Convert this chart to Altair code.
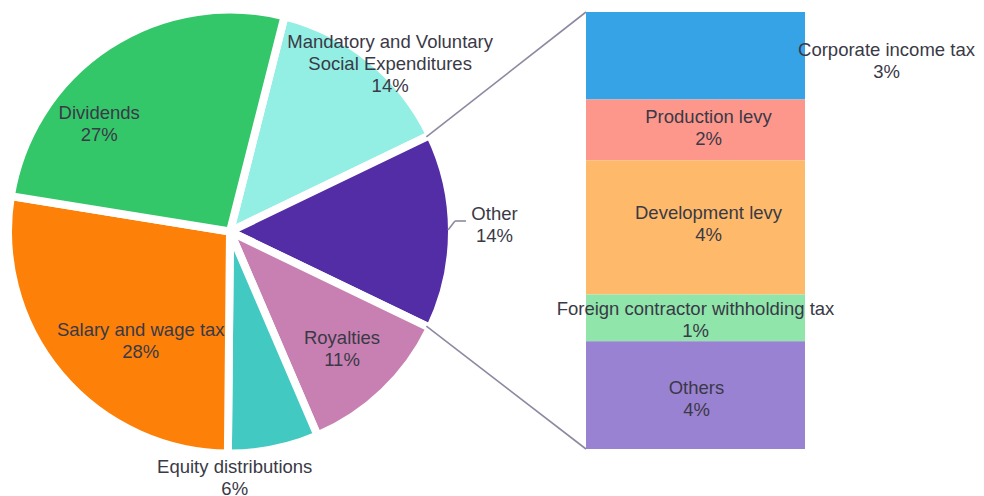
import math
import altair as alt
import pandas as pd

# ---------------- data ----------------
pie_names = ["Mandatory and Voluntary Social Expenditures", "Other", "Royalties",
             "Equity distributions", "Salary and wage tax", "Dividends"]
pie_values = [13.9, 14.3, 11.4, 6.6, 27.4, 26.4]
pie_pct_labels = ["14%", "14%", "11%", "6%", "28%", "27%"]

bar_names = ["Corporate income tax", "Production levy", "Development levy",
             "Foreign contractor withholding tax", "Others"]
bar_values = [2.8, 1.95, 4.3, 1.5, 3.45]
bar_pct_labels = ["3%", "2%", "4%", "1%", "4%"]

# ---------------- styles / layout ----------------
pie_colors = ["#93efe4", "#532da5", "#c880b2", "#42c9c1", "#fd8109", "#34c76a"]
bar_colors = ["#36a3e6", "#fe978b", "#feba6a", "#8fe5aa", "#9a82d3"]
TEXT_COLOR = "#3a3946"
LINE_COLOR = "#8c8aa0"
FONT = "Liberation Sans"
FONT_SIZE = 18.5
LINE_H = 22

W, H = 968, 488
CX, CY, R = 222, 223.5, 218
GAP = 8
BAR_X0, BAR_X1, BAR_Y0, BAR_Y1 = 578, 797, 4, 441

label_wrap = {"Mandatory and Voluntary Social Expenditures": "Mandatory and Voluntary\nSocial Expenditures"}
# radius, dx, dy of each pie label (dy refers to the centre of the text block)
pie_label_pos = {
    "Mandatory and Voluntary Social Expenditures": (231, 14, 11),
    "Other": (264.5, 0, -7),
    "Royalties": (162, 0, 0),
    "Equity distributions": (242.7, -43, 8.5),
    "Salary and wage tax": (139, 17, 20),
    "Dividends": (161.7, -42, 27.5),
}
# dx, dy of each bar label (dy refers to the centre of the text block)
bar_label_off = {
    "Corporate income tax": (191, 5),
    "Production levy": (13, -2),
    "Development levy": (13, -3),
    "Foreign contractor withholding tax": (0, 2),
    "Others": (1, 4),
}

# ---------------- tables ----------------
pie_df = pd.DataFrame({
    "name": pie_names,
    "value": pie_values,
    "idx": list(range(len(pie_names))),
    "label": [f"{label_wrap.get(n, n)}\n{p}" for n, p in zip(pie_names, pie_pct_labels)],
})
bar_df = pd.DataFrame({
    "name": bar_names,
    "value": bar_values,
    "idx": list(range(len(bar_names))),
    "label": [f"{n}\n{p}" for n, p in zip(bar_names, bar_pct_labels)],
})


def block_shift(text):
    # Vega puts the first line on the anchor; shift so the block is centred
    return -(text.count("\n")) * LINE_H / 2


pie_total = sum(pie_values)
other_i = pie_names.index("Other")
before_other = sum(pie_values[:other_i])
# rotate so that the broken-down slice faces right
start = math.pi / 2 - 2 * math.pi * (before_other + pie_values[other_i] / 2) / pie_total
theta_scale = alt.Scale(domain=[0, pie_total], range=[start, start + 2 * math.pi])
pie_color_scale = alt.Scale(domain=pie_names, range=pie_colors)

bar_total = sum(bar_values)
y_scale = alt.Scale(domain=[0, bar_total], range=[BAR_Y1, BAR_Y0])
bar_color_scale = alt.Scale(domain=bar_names, range=bar_colors)


def pie_base():
    return (alt.Chart(pie_df)
            .transform_window(cum="sum(value)", sort=[alt.SortField("idx")], frame=[None, 0])
            .transform_calculate(start="datum.cum - datum.value",
                                 mid="datum.cum - datum.value / 2"))


def bar_base():
    return (alt.Chart(bar_df)
            .transform_window(cum="sum(value)", sort=[alt.SortField("idx", order="descending")],
                              frame=[None, 0])
            .transform_calculate(y0="datum.cum - datum.value",
                                 ymid="datum.cum - datum.value / 2"))


layers = []

# pie slices
layers.append(
    pie_base().mark_arc(radius=R + GAP / 2, stroke="white", strokeWidth=GAP, strokeJoin="round")
    .encode(
        theta=alt.Theta("start:Q", scale=theta_scale),
        theta2="cum:Q",
        color=alt.Color("name:N", scale=pie_color_scale, legend=None),
        x=alt.value(CX), y=alt.value(CY),
    )
)

# bar segments
layers.append(
    bar_base().mark_rect()
    .encode(
        x=alt.value(BAR_X0), x2=alt.value(BAR_X1),
        y=alt.Y("y0:Q", scale=y_scale, axis=None),
        y2="cum:Q",
        color=alt.Color("name:N", scale=bar_color_scale, legend=None),
    )
)

# connector lines from the "Other" slice to the bar
a1 = start + 2 * math.pi * before_other / pie_total
a2 = a1 + 2 * math.pi * pie_values[other_i] / pie_total
p1 = (CX + R * math.sin(a1), CY - R * math.cos(a1))
p2 = (CX + R * math.sin(a2), CY - R * math.cos(a2))
one = pd.DataFrame({"k": [0]})
for (px, py), by in [(p1, BAR_Y0), (p2, BAR_Y1)]:
    layers.append(
        alt.Chart(one).mark_rule(color=LINE_COLOR, strokeWidth=1.6)
        .encode(x=alt.value(px), y=alt.value(py), x2=alt.value(BAR_X0), y2=alt.value(by))
    )

# small tick for the outside "Other" label
tick_pts = [(CX + R, CY - 1.5), (CX + R + 7, CY - 10.5), (CX + R + 18, CY - 10.5)]
for (ax, ay), (bx, by) in zip(tick_pts[:-1], tick_pts[1:]):
    layers.append(
        alt.Chart(one).mark_rule(color=LINE_COLOR, strokeWidth=1.6)
        .encode(x=alt.value(ax), y=alt.value(ay), x2=alt.value(bx), y2=alt.value(by))
    )

# pie labels
for name, text in zip(pie_names, pie_df["label"]):
    r, dx, dy = pie_label_pos[name]
    layers.append(
        pie_base().transform_filter(alt.datum.name == name)
        .mark_text(radius=r, dx=dx, dy=dy + block_shift(text), align="center", baseline="middle",
                   lineBreak="\n", font=FONT, fontSize=FONT_SIZE, lineHeight=LINE_H,
                   color=TEXT_COLOR)
        .encode(theta=alt.Theta("mid:Q", scale=theta_scale), text="label:N",
                x=alt.value(CX), y=alt.value(CY))
    )

# bar labels
for name, text in zip(bar_names, bar_df["label"]):
    dx, dy = bar_label_off[name]
    layers.append(
        bar_base().transform_filter(alt.datum.name == name)
        .mark_text(dx=dx, dy=dy + block_shift(text), align="center", baseline="middle",
                   lineBreak="\n", font=FONT, fontSize=FONT_SIZE, lineHeight=LINE_H,
                   color=TEXT_COLOR)
        .encode(x=alt.value((BAR_X0 + BAR_X1) / 2),
                y=alt.Y("ymid:Q", scale=y_scale, axis=None),
                text="label:N")
    )

chart = (alt.layer(*layers)
         .resolve_scale(color="independent")
         .properties(width=W, height=H, padding=0,
                     autosize=alt.AutoSizeParams(type="none"))
         .configure_view(stroke=None))

chart.save("out.html", embed_options={"renderer": "svg", "actions": False})
